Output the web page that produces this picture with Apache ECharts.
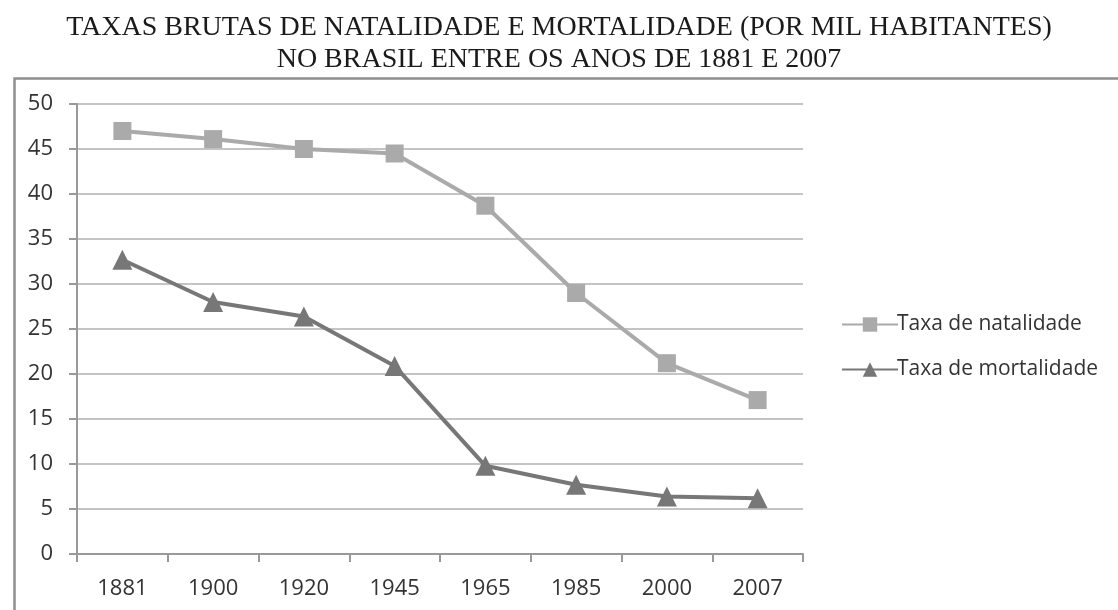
<!DOCTYPE html>
<html><head><meta charset="utf-8">
<script src="https://cdn.jsdelivr.net/npm/echarts@6/dist/echarts.min.js"></script>
<style>html,body{margin:0;padding:0;background:#fff}#c{width:1118px;height:610px}</style>
</head><body><div id="c"></div>
<script>
const categories = ['1881','1900','1920','1945','1965','1985','2000','2007'];
const natalidade = [47, 46.1, 45, 44.5, 38.7, 29, 21.2, 17.1];
const mortalidade = [32.7, 28, 26.4, 20.9, 9.8, 7.7, 6.4, 6.2];
const seriesNames = ['Taxa de natalidade', 'Taxa de mortalidade'];
const titleLines = ['TAXAS BRUTAS DE NATALIDADE E MORTALIDADE (POR MIL HABITANTES)', 'NO BRASIL ENTRE OS ANOS DE 1881 E 2007'];

const chart = echarts.init(document.getElementById('c'), null, {renderer: 'canvas'});
const labelFont = '"Open Sans", "Noto Sans", sans-serif';
chart.setOption({
  animation: false,
  backgroundColor: '#fff',
  title: {
    text: titleLines.join('\n'),
    left: 'center', top: 7,
    textStyle: {fontFamily: '"Liberation Serif", serif', fontWeight: 'normal', fontSize: 28, lineHeight: 32, color: '#1a1a1a'}
  },
  graphic: [{
    type: 'rect', left: 12, top: 76, shape: {width: 1130, height: 560},
    style: {fill: 'none', stroke: '#8f8f8f', lineWidth: 2.5}, z: -1
  }],
  grid: {left: 77, top: 104, width: 726, height: 450, containLabel: false},
  legend: {
    orient: 'vertical', left: 836, top: 309, itemGap: 24,
    itemWidth: 56, itemHeight: 18,
    textStyle: {fontFamily: labelFont, fontSize: 21, color: '#333', padding: [0,0,0,-6]},
    data: seriesNames
  },
  xAxis: {
    type: 'category', data: categories, boundaryGap: true,
    axisLine: {lineStyle: {color: '#999', width: 2}},
    axisTick: {show: true, length: 8, lineStyle: {color: '#999', width: 2}},
    axisLabel: {fontFamily: labelFont, fontSize: 22, color: '#333', margin: 24}
  },
  yAxis: {
    type: 'value', min: 0, max: 50, interval: 5,
    axisLine: {show: true, lineStyle: {color: '#999', width: 2}},
    axisTick: {show: true, length: 8, lineStyle: {color: '#999', width: 2}},
    axisLabel: {fontFamily: labelFont, fontSize: 22, color: '#333', margin: 24},
    splitLine: {lineStyle: {color: '#c4c4c4', width: 2}}
  },
  series: [{
    name: seriesNames[0], type: 'line', data: natalidade,
    symbol: 'rect', symbolSize: 18,
    lineStyle: {color: '#aaaaaa', width: 4},
    itemStyle: {color: '#aaaaaa'}
  }, {
    name: seriesNames[1], type: 'line', data: mortalidade,
    symbol: 'triangle', symbolSize: 20,
    lineStyle: {color: '#777777', width: 4},
    itemStyle: {color: '#777777'}
  }]
});
</script></body></html>
